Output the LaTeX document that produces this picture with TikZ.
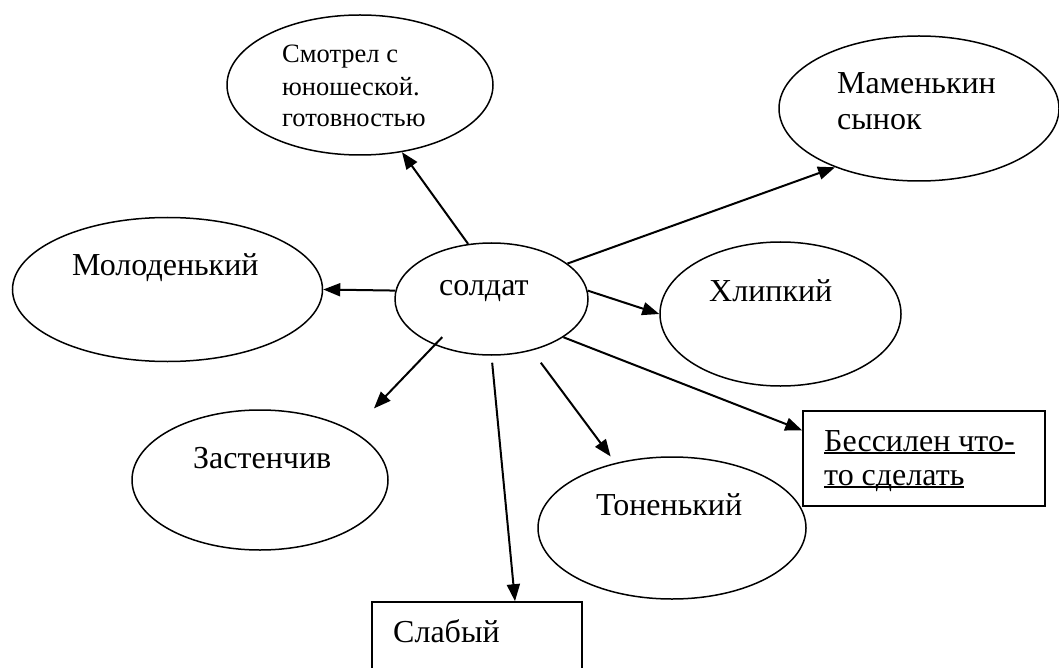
\documentclass[tikz,border=0pt]{standalone}
\usepackage{fontspec}
\setmainfont{Liberation Serif}
\usetikzlibrary{shapes.geometric,arrows.meta,calc}
\newcommand{\ulx}[1]{\setbox0\hbox{#1}\rlap{\rule[-3pt]{\wd0}{1.6pt}}\box0}
\begin{document}
\begin{tikzpicture}[x=1pt,y=-1pt,
  ell/.style={draw, ellipse, line width=1.5pt, inner sep=0pt},
  boxn/.style={draw, rectangle, line width=1.6pt, inner sep=0pt},
  txt/.style={anchor=base west, inner sep=0pt, font=\fontsize{32}{36}\selectfont},
  smalltxt/.style={anchor=base west, inner sep=0pt, font=\fontsize{26.5}{30}\selectfont},
  arr/.style={line width=2pt, -{Triangle[length=17pt,width=13pt]}}]
\clip (0,0) rectangle (1059,668);
\fill[white] (0,0) rectangle (1059,668);
% shapes
\node[ell, minimum width=266pt, minimum height=140pt] (smot) at (360,85) {};
\node[ell, minimum width=280pt, minimum height=145pt] (mam) at (919,108.5) {};
\node[ell, minimum width=310pt, minimum height=144pt] (mol) at (167.5,289.5) {};
\node[ell, minimum width=193pt, minimum height=112pt] (sold) at (491.5,299) {};
\node[ell, minimum width=241pt, minimum height=144pt] (khl) at (780.5,314) {};
\node[ell, minimum width=256pt, minimum height=140pt] (zas) at (260,480) {};
\node[ell, minimum width=268pt, minimum height=142pt] (ton) at (672,528) {};
\node[boxn, minimum width=242pt, minimum height=95pt] (bes) at (924,458.5) {};
\node[boxn, minimum width=210pt, minimum height=76pt] (slab) at (477,640) {};
% texts
\node[smalltxt] (t1a) at (282,63) {Смотрел с};
\node[smalltxt] (t1b) at (282,96) {юношеской.};
\node[smalltxt] (t1c) at (282,127) {готовностью};
\node[txt] (t2a) at (837,94) {Маменькин};
\node[txt] (t2b) at (837,130) {сынок};
\node[txt] (t3) at (72,275) {Молоденький};
\node[txt] (t4) at (439,295) {солдат};
\node[txt] (t5) at (709,301) {Хлипкий};
\node[txt] (t6) at (193,468) {Застенчив};
\node[txt] (t7) at (596,515) {Тоненький};
\node[txt] (t8a) at (824,451) {\ulx{Бессилен что-}};
\node[txt] (t8b) at (824,485) {\ulx{то сделать}};
\node[txt] (t9) at (393,642) {Слабый};
% connectors
\draw[arr] (sold.113) -- (smot.302);
\draw[arr] (sold.25) -- (mam.215);
\draw[arr] (sold.175) -- (mol.east);
\draw[arr] (sold.5) -- (khl.west);
\draw[arr] (sold.332) -- (bes.167.6);
\draw[arr, shorten <=-11pt, shorten >=31pt] (sold.219) -- (zas.28);
\draw[arr, shorten <=7pt] (sold.south) -- ($(slab.north)+(38,0)$);
\draw[arr, shorten <=15pt, shorten >=8pt] (sold.308) -- (ton.131);
\end{tikzpicture}
\end{document}
